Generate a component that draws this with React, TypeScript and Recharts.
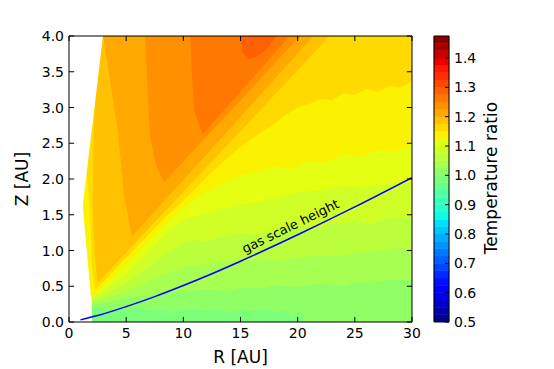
import React from "react";
import {
  Area,
  Bar,
  BarChart,
  ComposedChart,
  Label,
  Line,
  ReferenceArea,
  ReferenceDot,
  ReferenceLine,
  XAxis,
  YAxis,
} from "recharts";

const FONT = '"DejaVu Sans", Verdana, sans-serif';

// ----------------------------- Axis ticks -----------------------------
const rTicks = [0, 5, 10, 15, 20, 25, 30];
const zTicks = [0, 0.5, 1, 1.5, 2, 2.5, 3, 3.5, 4];
const cbTicks = [0.5, 0.6, 0.7, 0.8, 0.9, 1.0, 1.1, 1.2, 1.3, 1.4];

// contour levels of the colour bar
const levelMin = 0.5;
const levelStep = 0.025;
const levelCount = 39;
const levelMax = levelMin + levelStep * levelCount;

// ----------------------------- Gas scale height -----------------------------
const gasR = [1, 2.5, 5, 7.5, 10, 12.5, 15, 20, 25, 30];
const gasZ = [0.03, 0.09, 0.215, 0.355, 0.51, 0.675, 0.85, 1.22, 1.61, 2.02];

// ----------------------------- Contour zones -----------------------------
// each point: [R, Z low, Z high]; zones are painted bottom-up (higher level over lower)
type Pt = [number, number, number];

const zoneA: Pt[] = [[0.9, 0, 4], [30, 0, 4]];
const zoneB: Pt[] = [
  [0.9, 0.2, 4], [2.0, 0.2, 4], [3, 0.19, 4], [4, 0.16, 4], [5, 0.18, 4], [6, 0.2, 4], [7, 0.15, 4],
  [8, 0.18, 4], [9, 0.14, 4], [10, 0.17, 4], [11, 0.19, 4], [12, 0.15, 4], [13, 0.18, 4], [14, 0.14, 4],
  [15, 0.17, 4], [16, 0.15, 4], [17, 0.18, 4], [18, 0.14, 4], [19, 0.16, 4], [19.5, 0.06, 4],
  [19.8, 0.14, 4], [20.4, 0.13, 4], [20.5, 0, 4], [30, 0, 4],
];
const zoneC: Pt[] = [
  [0.9, 0.24, 4], [2.05, 0.24, 4], [3.5, 0.28, 4], [5, 0.33, 4], [6.5, 0.36, 4], [8, 0.4, 4], [10, 0.43, 4],
  [12, 0.45, 4], [14, 0.44, 4], [15, 0.48, 4], [17, 0.47, 4], [18, 0.51, 4], [20, 0.49, 4], [22, 0.53, 4],
  [24, 0.5, 4], [25, 0.55, 4], [27, 0.56, 4], [28, 0.6, 4], [30, 0.58, 4],
];
const zoneD: Pt[] = [
  [0.9, 0.27, 4], [2.05, 0.27, 4], [3.5, 0.35, 4], [5, 0.43, 4], [6.5, 0.53, 4], [8, 0.65, 4], [10, 0.78, 4],
  [11.5, 0.8, 4], [13, 0.84, 4], [15, 0.83, 4], [16.5, 0.88, 4], [18, 0.86, 4], [20, 0.9, 4], [22, 0.93, 4],
  [23.5, 0.91, 4], [25, 0.97, 4], [27, 0.99, 4], [28.5, 1.04, 4], [30, 1.02, 4],
];
const zoneE: Pt[] = [
  [0.9, 0.3, 4], [2.05, 0.3, 4], [3.5, 0.42, 4], [5, 0.55, 4], [6.5, 0.72, 4], [8, 0.9, 4], [10, 1.1, 4],
  [11, 1.15, 4], [12, 1.13, 4], [13.5, 1.2, 4], [15, 1.24, 4], [16.5, 1.22, 4], [18, 1.3, 4], [20, 1.32, 4],
  [21.5, 1.3, 4], [23, 1.38, 4], [25, 1.4, 4], [26.5, 1.37, 4], [28, 1.45, 4], [30, 1.47, 4],
];
const zoneF: Pt[] = [
  [0.9, 0.34, 4], [2.1, 0.34, 4], [3.5, 0.5, 4], [5, 0.68, 4], [6.5, 0.9, 4], [8, 1.15, 4], [9, 1.3, 4],
  [10, 1.42, 4], [11, 1.48, 4], [12, 1.52, 4], [13.5, 1.58, 4], [15, 1.64, 4], [16.5, 1.68, 4], [18, 1.74, 4],
  [20, 1.82, 4], [22, 1.84, 4], [24, 1.9, 4], [26, 1.88, 4], [28, 1.94, 4], [30, 1.96, 4],
];
const zoneG: Pt[] = [
  [0.9, 0.4, 4], [2.2, 0.38, 4], [3.5, 0.58, 4], [5, 0.8, 4], [6.5, 1.05, 4], [8, 1.3, 4], [9, 1.45, 4],
  [10, 1.6, 4], [11, 1.72, 4], [12, 1.82, 4], [13.5, 1.95, 4], [15, 2.05, 4], [16.5, 2.1, 4], [18, 2.18, 4],
  [19.5, 2.14, 4], [21, 2.26, 4], [22.5, 2.23, 4], [24, 2.35, 4], [25.5, 2.31, 4], [27, 2.41, 4],
  [28.5, 2.38, 4], [30, 2.49, 4],
];
const zoneH: Pt[] = [
  [1.3, 2.0, 4], [1.6, 2.05, 4], [1.85, 1.5, 4], [2.0, 0.8, 4], [2.3, 0.45, 4], [3.5, 0.65, 4], [5, 0.9, 4],
  [6.5, 1.15, 4], [8.3, 1.44, 4], [10, 1.7, 4], [12, 2.02, 4], [13.5, 2.25, 4], [15, 2.45, 4], [16.5, 2.62, 4],
  [18, 2.78, 4], [19, 2.9, 4], [20, 3.0, 4], [21, 3.05, 4], [22, 3.12, 4], [23, 3.1, 4], [24, 3.2, 4],
  [25, 3.18, 4], [26, 3.26, 4], [27, 3.22, 4], [28, 3.3, 4], [29, 3.28, 4], [30, 3.36, 4],
];
const zoneI: Pt[] = [
  [2.08, 1.6, 1.8], [2.15, 1.25, 2.6], [2.25, 1.0, 2.95], [2.35, 0.8, 3.2], [2.5, 0.55, 3.4], [2.97, 0.63, 4],
  [5, 0.97, 4], [8.3, 1.53, 4], [12, 2.16, 4], [16, 2.84, 4], [20, 3.52, 4], [22.8, 4, 4],
];
const zoneJ: Pt[] = [
  [2.97, 4, 4], [3.4, 3.57, 4], [4.3, 2.63, 4], [4.8, 1.8, 4], [5.5, 1.2, 4], [8.3, 1.69, 4], [12, 2.34, 4],
  [16, 3.05, 4], [21.4, 4, 4],
];
const zoneK: Pt[] = [
  [6.65, 4, 4], [6.85, 3.3, 4], [7.06, 2.63, 4], [7.6, 2.2, 4], [8.3, 1.95, 4], [12, 2.59, 4], [16, 3.27, 4],
  [20.2, 4, 4],
];
const zoneL: Pt[] = [[10.6, 4, 4], [10.8, 3.3, 4], [11.0, 2.92, 4], [11.7, 2.63, 4], [16, 3.4, 4], [19.3, 4, 4]];
const zoneM: Pt[] = [[15.0, 4, 4], [15.2, 3.76, 4], [15.7, 3.68, 4], [16.5, 3.72, 4], [17.3, 3.82, 4], [18.2, 4, 4]];

// no data left of the inner edge
const maskTop: Pt[] = [[0, 0, 4], [1.2, 1.62, 4], [2.97, 4, 4]];
const maskBottom: Pt[] = [[0, 0, 4], [1.2, 0, 1.62], [1.9, 0, 0.4], [2.0, 0, 0.28], [2.0, 0, 0]];

// contour bin index of every zone
const zones: { bin: number; pts: Pt[] }[] = [
  { bin: 19, pts: zoneA },
  { bin: 20, pts: zoneB },
  { bin: 21, pts: zoneC },
  { bin: 22, pts: zoneD },
  { bin: 23, pts: zoneE },
  { bin: 24, pts: zoneF },
  { bin: 25, pts: zoneG },
  { bin: 26, pts: zoneH },
  { bin: 27, pts: zoneI },
  { bin: 28, pts: zoneJ },
  { bin: 29, pts: zoneK },
  { bin: 30, pts: zoneL },
  { bin: 31, pts: zoneM },
];

// ----------------------------- jet colormap -----------------------------
const JET_R = [[0, 0], [0.35, 0], [0.66, 1], [0.89, 1], [1, 0.5]];
const JET_G = [[0, 0], [0.125, 0], [0.375, 1], [0.64, 1], [0.91, 0], [1, 0]];
const JET_B = [[0, 0.5], [0.11, 1], [0.34, 1], [0.65, 0], [1, 0]];

function seg(pts: number[][], t: number) {
  for (let i = 1; i < pts.length; i++) {
    if (t <= pts[i][0]) {
      const [x0, y0] = pts[i - 1];
      const [x1, y1] = pts[i];
      return y0 + ((t - x0) / (x1 - x0)) * (y1 - y0);
    }
  }
  return pts[pts.length - 1][1];
}
function jet(t: number) {
  const c = (p: number[][]) => Math.round(255 * seg(p, t));
  return `rgb(${c(JET_R)},${c(JET_G)},${c(JET_B)})`;
}
const binColor = (k: number) => jet((k + 0.5) / levelCount);

const toData = (pts: Pt[]) => pts.map(([r, lo, hi]) => ({ r, v: [lo, hi] }));
const gasData = gasR.map((r, i) => ({ r, z: gasZ[i] }));

// plot box in pixels
const BOX = { left: 69, right: 412, top: 36, bottom: 322 };
const CB_RIGHT = 449;
const MARGIN = { top: 36, right: 142, bottom: 0, left: 0 };
const CB_MARGIN = { top: 36, right: 55, bottom: 47, left: 434 };
// inward tick length in data units (about 5 px)
const TICK_R = 0.45;
const TICK_Z = 0.07;

const XTick = (p: any) => (
  <text x={p.x} y={BOX.bottom + 16} textAnchor="middle" fontSize={14} fontFamily={FONT} fill="#000">
    {p.payload.value}
  </text>
);

const YTick = (p: any) => (
  <text x={BOX.left - 5} y={p.y + 5} textAnchor="end" fontSize={14} fontFamily={FONT} fill="#000">
    {Number(p.payload.value).toFixed(1)}
  </text>
);

const CbTick = (p: any) => (
  <g>
    <path d={`M${CB_RIGHT},${p.y}h-4`} stroke="#000" strokeWidth={1} fill="none" />
    <text x={CB_RIGHT + 5} y={p.y + 5} textAnchor="start" fontSize={14} fontFamily={FONT} fill="#000">
      {Number(p.payload.value).toFixed(1)}
    </text>
  </g>
);

const GasLabel = (p: any) => {
  const vb = p.viewBox || {};
  const cx = (vb.x ?? 0) + (vb.width ?? 0) / 2;
  const cy = (vb.y ?? 0) + (vb.height ?? 0) / 2;
  return (
    <text
      x={cx}
      y={cy}
      dy="0.35em"
      textAnchor="middle"
      fontSize={13}
      fontFamily={FONT}
      fill="#000"
      transform={`rotate(-26 ${cx} ${cy})`}
    >
      gas scale height
    </text>
  );
};

const cbRow: Record<string, number | string> = { name: "cb", base: levelMin };
for (let k = 0; k < levelCount; k++) cbRow[`b${k}`] = levelStep;
const bins = Array.from({ length: levelCount }, (_, k) => k);

const layer: React.CSSProperties = { position: "absolute", left: 0, top: 0 };

export default function App() {
  return (
    <div style={{ position: "absolute", left: 0, top: 0, width: 554, height: 369, background: "#fff" }}>
      {/* filled contours */}
      <div style={layer}>
        <ComposedChart width={554} height={369} margin={MARGIN}>
          {zones.map((z) => (
            <Area
              key={`zone-${z.bin}`}
              data={toData(z.pts)}
              dataKey="v"
              type="linear"
              fill={binColor(z.bin)}
              fillOpacity={1}
              stroke="none"
              dot={false}
              activeDot={false}
              isAnimationActive={false}
            />
          ))}
          {[maskTop, maskBottom].map((m, i) => (
            <Area
              key={`mask-${i}`}
              data={toData(m)}
              dataKey="v"
              type="linear"
              fill="#fff"
              fillOpacity={1}
              stroke="none"
              dot={false}
              activeDot={false}
              isAnimationActive={false}
            />
          ))}
          <XAxis type="number" dataKey="r" domain={[0, 30]} ticks={rTicks} allowDataOverflow axisLine={false} tickLine={false} tick={false} height={47} />
          <YAxis type="number" domain={[0, 4]} ticks={zTicks} allowDataOverflow axisLine={false} tickLine={false} tick={false} width={69} />
        </ComposedChart>
      </div>

      {/* line, frame, ticks, axes on top */}
      <div style={layer}>
        <ComposedChart width={554} height={369} margin={MARGIN}>
          <Line
            data={gasData}
            dataKey="z"
            type="monotone"
            stroke="#0000ff"
            strokeWidth={1.5}
            dot={false}
            activeDot={false}
            isAnimationActive={false}
          />
          <ReferenceDot x={19.37} y={1.34} r={1} fill="none" stroke="none" label={<Label content={GasLabel} />} />
          {rTicks.map((t) => (
            <ReferenceLine key={`xb${t}`} segment={[{ x: t, y: 0 }, { x: t, y: TICK_Z }]} stroke="#000" strokeWidth={1} ifOverflow="visible" />
          ))}
          {rTicks.map((t) => (
            <ReferenceLine key={`xt${t}`} segment={[{ x: t, y: 4 }, { x: t, y: 4 - TICK_Z }]} stroke="#000" strokeWidth={1} ifOverflow="visible" />
          ))}
          {zTicks.map((t) => (
            <ReferenceLine key={`yl${t}`} segment={[{ x: 0, y: t }, { x: TICK_R, y: t }]} stroke="#000" strokeWidth={1} ifOverflow="visible" />
          ))}
          {zTicks.map((t) => (
            <ReferenceLine key={`yr${t}`} segment={[{ x: 30, y: t }, { x: 30 - TICK_R, y: t }]} stroke="#000" strokeWidth={1} ifOverflow="visible" />
          ))}
          <ReferenceArea x1={0} x2={30} y1={0} y2={4} fill="none" stroke="#000" strokeWidth={1} ifOverflow="visible" />
          <XAxis
            type="number"
            dataKey="r"
            domain={[0, 30]}
            ticks={rTicks}
            interval={0}
            allowDataOverflow
            axisLine={false}
            tickLine={false}
            height={47}
            tick={(p: any) => <XTick {...p} />}
            label={
              <Label
                content={() => (
                  <text x={240.5} y={363} textAnchor="middle" fontSize={17} fontFamily={FONT} fill="#000">
                    R [AU]
                  </text>
                )}
              />
            }
          />
          <YAxis
            type="number"
            domain={[0, 4]}
            ticks={zTicks}
            interval={0}
            allowDataOverflow
            axisLine={false}
            tickLine={false}
            width={69}
            tick={(p: any) => <YTick {...p} />}
            label={
              <Label
                content={() => (
                  <text
                    x={28}
                    y={179}
                    textAnchor="middle"
                    fontSize={17}
                    fontFamily={FONT}
                    fill="#000"
                    transform="rotate(-90 28 179)"
                  >
                    Z [AU]
                  </text>
                )}
              />
            }
          />
        </ComposedChart>
      </div>

      {/* colour bar */}
      <div style={layer}>
        <BarChart width={554} height={369} data={[cbRow]} margin={CB_MARGIN} barCategoryGap={0} barGap={0}>
          <XAxis dataKey="name" hide />
          <YAxis
            orientation="right"
            type="number"
            domain={[levelMin, levelMax]}
            ticks={cbTicks}
            allowDataOverflow
            axisLine={false}
            tickLine={false}
            tick={false}
            width={50}
          />
          <Bar dataKey="base" stackId="cb" fill="none" isAnimationActive={false} />
          {bins.map((k) => (
            <Bar
              key={`b${k}`}
              dataKey={`b${k}`}
              stackId="cb"
              fill={binColor(k)}
              stroke={binColor(k)}
              strokeWidth={0.5}
              isAnimationActive={false}
            />
          ))}
        </BarChart>
      </div>

      {/* colour bar frame, ticks and label on top */}
      <div style={layer}>
        <BarChart width={554} height={369} data={[cbRow]} margin={CB_MARGIN} barCategoryGap={0} barGap={0}>
          <XAxis dataKey="name" hide />
          <Bar dataKey="base" fill="none" isAnimationActive={false} />
          <ReferenceArea y1={levelMin} y2={levelMax} fill="none" stroke="#000" strokeWidth={1} ifOverflow="visible" />
          <YAxis
            orientation="right"
            type="number"
            domain={[levelMin, levelMax]}
            ticks={cbTicks}
            interval={0}
            allowDataOverflow
            axisLine={false}
            tickLine={false}
            width={50}
            tick={(p: any) => <CbTick {...p} />}
            label={
              <Label
                content={() => (
                  <text
                    x={497}
                    y={178}
                    textAnchor="middle"
                    fontSize={17}
                    fontFamily={FONT}
                    fill="#000"
                    transform="rotate(-90 497 178)"
                  >
                    Temperature ratio
                  </text>
                )}
              />
            }
          />
        </BarChart>
      </div>
    </div>
  );
}
